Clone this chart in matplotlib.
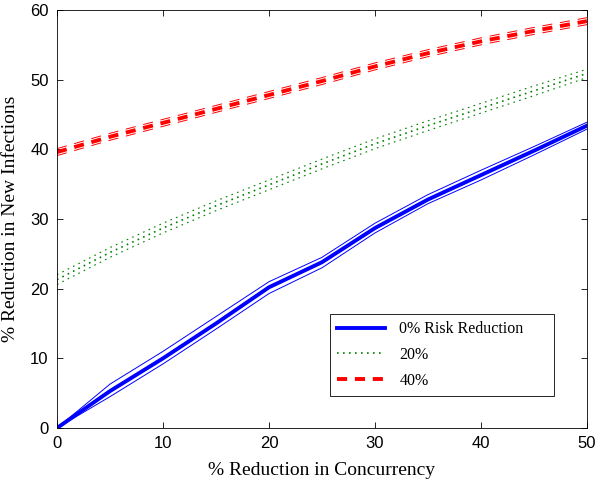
import matplotlib
matplotlib.use("Agg")
import matplotlib.pyplot as plt
import numpy as np

# % reduction in concurrency
x = [0, 5, 10, 15, 20, 25, 30, 35, 40, 45, 50]

# 0% risk reduction: mean, upper and lower bounds
blue_mid = [0, 5.3, 10.0, 15.0, 20.2, 23.8, 28.7, 32.8, 36.3, 39.8, 43.4]
blue_hi = [0, 6.3, 11.0, 16.0, 21.0, 24.5, 29.4, 33.5, 37.0, 40.4, 43.9]
blue_lo = [0, 4.5, 9.2, 14.2, 19.3, 23.0, 28.0, 32.2, 35.6, 39.2, 42.9]

# 20% risk reduction
green_mid = [21.3, 25.2, 28.7, 31.9, 34.9, 37.9, 40.8, 43.4, 45.9, 48.4, 50.9]
green_hi = [22.0, 25.9, 29.4, 32.6, 35.6, 38.6, 41.5, 44.1, 46.6, 49.1, 51.5]
green_lo = [20.6, 24.5, 28.0, 31.2, 34.2, 37.2, 40.1, 42.7, 45.2, 47.7, 50.3]

# 40% risk reduction
red_mid = [39.6, 41.8, 43.8, 45.8, 47.8, 49.8, 51.9, 53.8, 55.5, 57.0, 58.4]
red_hi = [40.1, 42.3, 44.3, 46.3, 48.3, 50.3, 52.4, 54.3, 56.0, 57.5, 58.9]
red_lo = [39.1, 41.3, 43.3, 45.3, 47.3, 49.3, 51.4, 53.3, 55.0, 56.5, 57.9]

labels = ["0% Risk Reduction", "20%", "40%"]

fig = plt.figure(figsize=(6.01, 4.87), dpi=100)
ax = fig.add_axes([0.0948, 0.1211, 0.8819, 0.8584])

green = (0, 0.5, 0)
ax.plot(x, blue_mid, color="blue", lw=2.8, label=labels[0])
ax.plot(x, blue_hi, color="blue", lw=0.7)
ax.plot(x, blue_lo, color="blue", lw=0.7)

ax.plot(x, green_mid, color=green, lw=1.2, ls=(0, (1.0, 2.6)), label=labels[1])
ax.plot(x, green_hi, color=green, lw=0.8, ls=(0, (1.5, 3.9)))
ax.plot(x, green_lo, color=green, lw=0.8, ls=(0, (1.5, 3.9)))

ax.plot(x, red_mid, color="red", lw=2.8, ls=(0, (2.6, 2.0)), label=labels[2])
ax.plot(x, red_hi, color="red", lw=0.7, ls=(0, (10.4, 8.0)))
ax.plot(x, red_lo, color="red", lw=0.7, ls=(0, (10.4, 8.0)))

ax.set_xlim(0, 50)
ax.set_ylim(0, 60)
ax.set_xticks(range(0, 51, 10))
ax.set_yticks(range(0, 61, 10))
ax.tick_params(direction="in", top=True, right=True, length=4.5, width=0.6,
               labelsize=12, pad=6)
for lab in ax.get_xticklabels() + ax.get_yticklabels():
    lab.set_family("Liberation Sans")
for s in ax.spines.values():
    s.set_linewidth(0.6)

ax.set_xlabel("% Reduction in Concurrency", family="Liberation Serif",
              fontsize=14, labelpad=8)
ax.set_ylabel("% Reduction in New Infections", family="Liberation Serif",
              fontsize=14, labelpad=8)

# MATLAB style legend box: wider than its contents
leg = ax.legend(loc="lower left", bbox_to_anchor=(0.515, 0.077, 0.4226, 0.194),
                mode="expand",
                prop={"family": "Liberation Serif", "size": 11.5},
                fancybox=False, edgecolor="black", framealpha=1,
                handlelength=3.0, borderpad=0.45, labelspacing=0.6,
                handletextpad=0.9, borderaxespad=0)
leg.get_frame().set_linewidth(0.6)

fig.savefig("out.png", dpi=100)
